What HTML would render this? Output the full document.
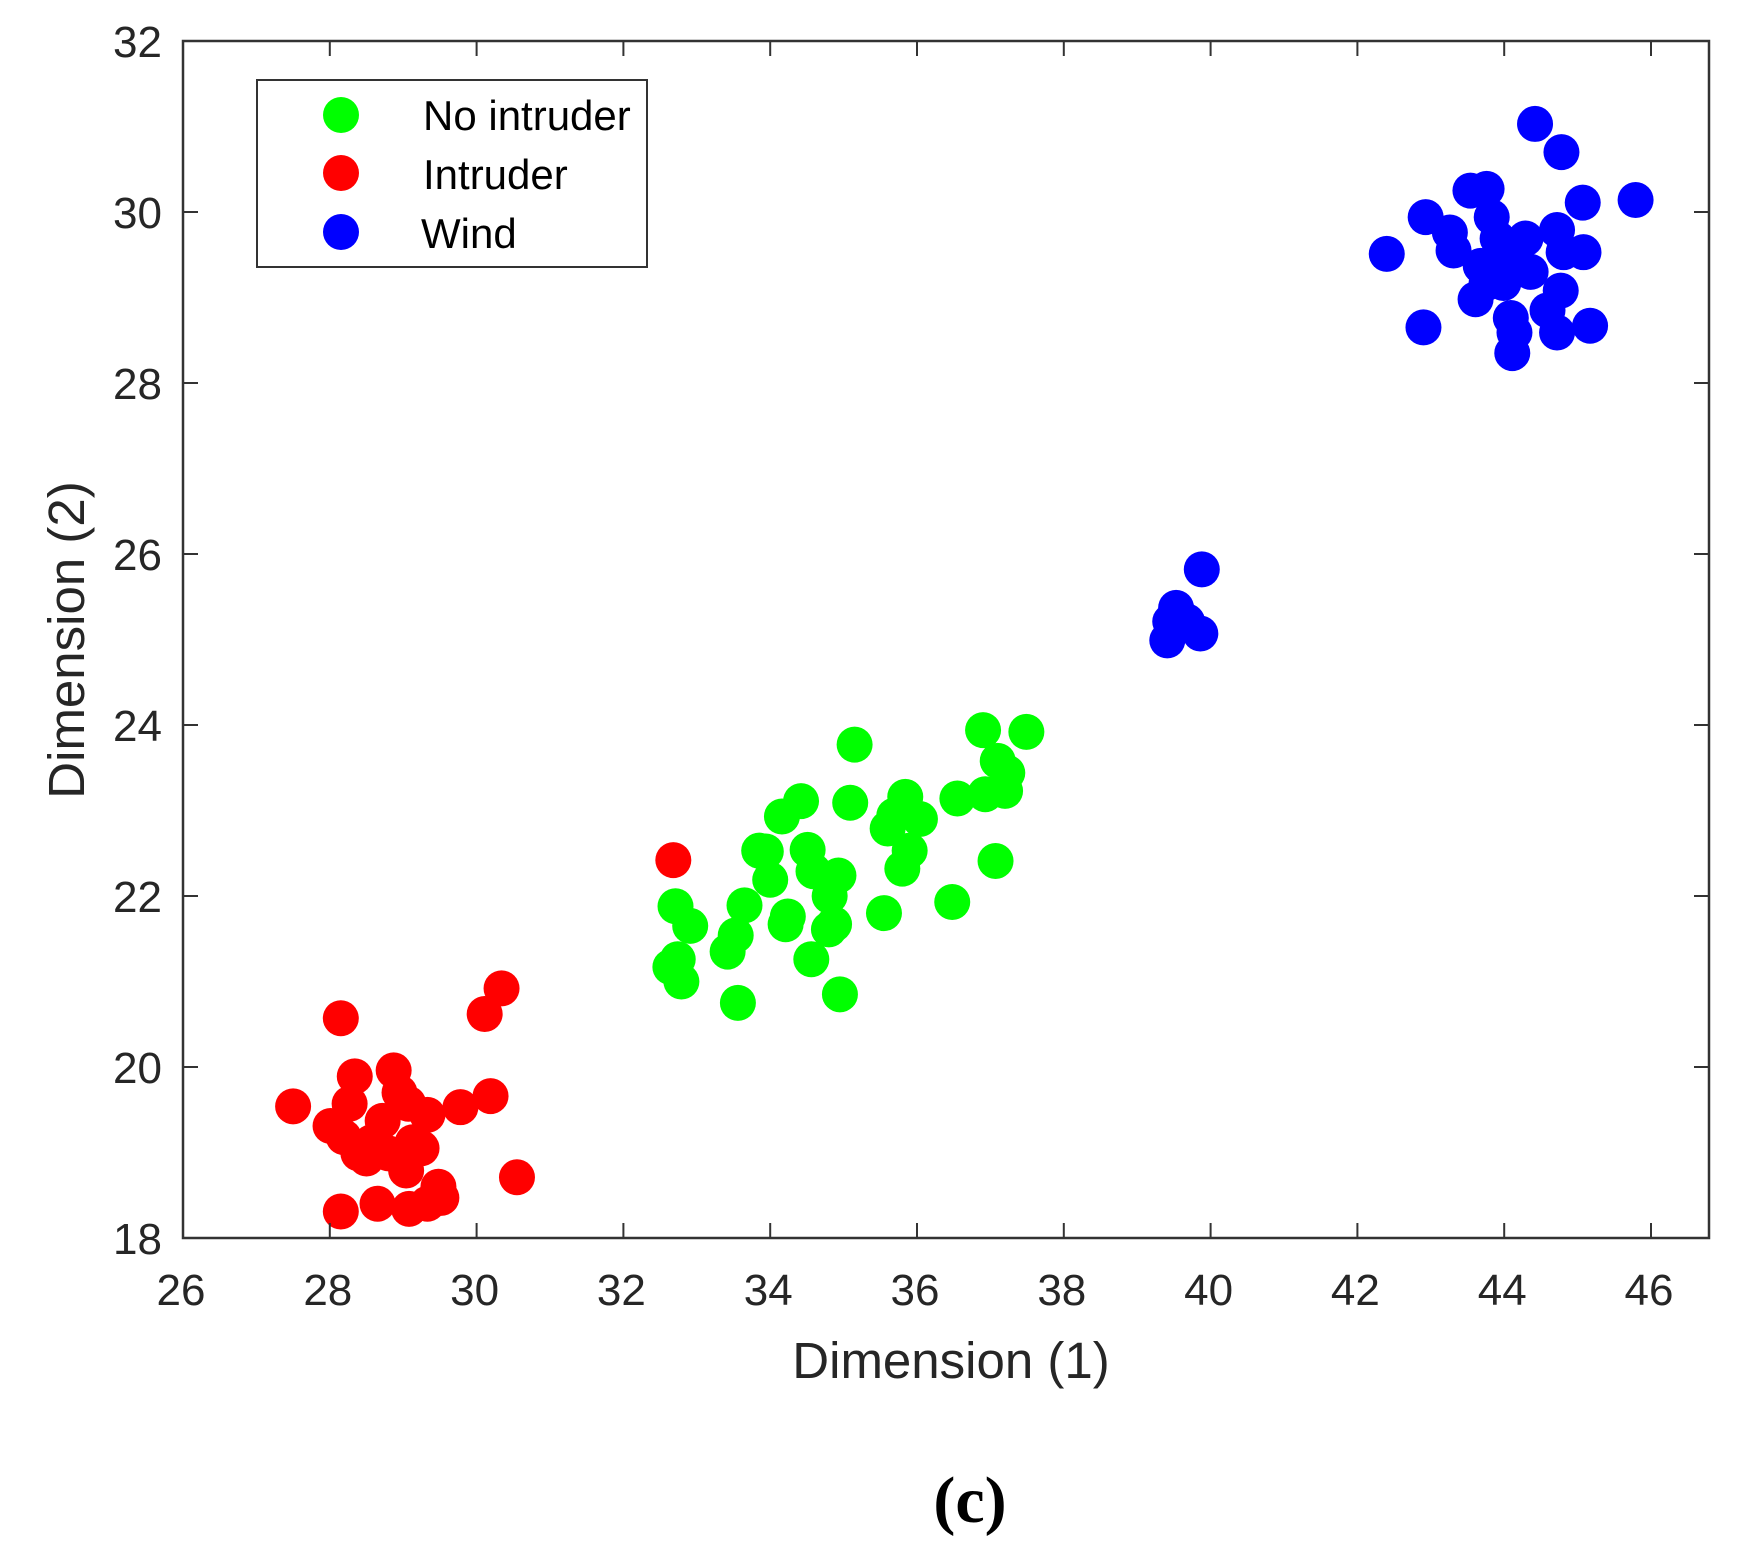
<!DOCTYPE html>
<html><head><meta charset="utf-8">
<style>
html,body{margin:0;padding:0;background:#fff;}
svg{display:block;font-family:"Liberation Sans",Arial,sans-serif;}
</style></head>
<body>
<svg id="chart" width="1739" height="1559" viewBox="0 0 1739 1559" xmlns="http://www.w3.org/2000/svg">
<rect x="0" y="0" width="1739" height="1559" fill="#fff"/>
<g id="points"></g>
<g id="axes"></g>
<g id="legend">
  <rect x="257" y="80" width="390" height="187" fill="#fff" stroke="#333" stroke-width="2"/>
  <circle cx="341" cy="115" r="18" fill="#00ff00"/>
  <circle cx="341" cy="173" r="18" fill="#ff0000"/>
  <circle cx="341" cy="232" r="18" fill="#0000ff"/>
  <text x="423" y="130" font-size="42" fill="#000">No intruder</text>
  <text x="423" y="189" font-size="42" fill="#000">Intruder</text>
  <text x="421" y="248" font-size="42" fill="#000">Wind</text>
</g>
<text x="951" y="1378" font-size="51" text-anchor="middle" fill="#262626">Dimension (1)</text>
<text transform="translate(84,640) rotate(-90)" font-size="51" text-anchor="middle" fill="#262626">Dimension (2)</text>
<text x="970" y="1522" font-size="66" text-anchor="middle" font-family="'Liberation Serif',serif" font-weight="bold" fill="#000">(c)</text>
</svg>
<script>
const xTicks = [26,28,30,32,34,36,38,40,42,44,46];
const yTicks = [18,20,22,24,26,28,30,32];
const greenX = [32.71,32.91,32.64,32.74,32.79,33.56,33.42,33.53,33.65,33.85,33.94,34.0,34.16,34.42,34.24,34.21,34.51,34.59,34.56,34.81,34.87,34.80,34.93,34.95,35.09,35.15,35.55,35.6,35.69,35.84,35.90,35.80,36.04,36.48,36.55,36.90,36.93,37.07,37.10,37.20,37.23,37.49];
const greenY = [21.88,21.65,21.17,21.26,21.0,20.75,21.35,21.54,21.89,22.53,22.52,22.19,22.93,23.11,21.76,21.67,22.54,22.29,21.26,22.0,21.67,21.61,22.24,20.85,23.09,23.77,21.80,22.79,22.94,23.16,22.53,22.32,22.90,21.93,23.14,23.94,23.19,22.41,23.58,23.23,23.44,23.92];
const redX = [27.50,28.15,28.15,28.01,28.34,28.27,28.19,28.39,28.57,28.65,28.72,28.87,28.95,29.07,29.13,29.25,29.04,29.08,29.33,29.48,29.52,29.33,29.78,30.11,30.19,30.34,30.55,28.5,28.8,32.68];
const redY = [19.54,20.57,18.31,19.31,19.89,19.57,19.18,18.99,19.12,18.40,19.37,19.96,19.70,19.57,19.12,19.05,18.79,18.34,19.44,18.60,18.47,18.40,19.53,20.62,19.66,20.92,18.71,18.93,18.99,22.42];
const blueX = [39.41,39.45,39.53,39.68,39.86,39.88,42.40,42.90,42.93,43.26,43.31,43.54,43.76,43.61,43.83,43.68,43.91,43.99,44.06,44.09,44.14,44.11,44.29,44.36,44.42,44.59,44.72,44.72,44.78,44.77,44.81,45.07,45.08,45.17,45.79,43.76];
const blueY = [24.99,25.21,25.37,25.21,25.07,25.82,29.51,28.65,29.94,29.76,29.55,30.25,30.27,28.98,29.94,29.37,29.69,29.17,29.50,28.76,28.59,28.35,29.69,29.30,31.03,28.85,29.79,28.59,30.70,29.08,29.53,30.11,29.53,28.67,30.14,29.17];

const NS = "http://www.w3.org/2000/svg";
const L = 183, R = 1709, T = 41, B = 1238;
const xMin = 26, xMax = 46, yMin = 18, yMax = 32;
const xPx = v => 183 + (v - xMin) * (1651 - 183) / (xMax - xMin);
const yPx = v => B - (v - yMin) * (B - T) / (yMax - yMin);

function mk(tag, attrs, parent) {
  const e = document.createElementNS(NS, tag);
  for (const k in attrs) e.setAttribute(k, attrs[k]);
  parent.appendChild(e);
  return e;
}
const pts = document.getElementById('points');
function series(xs, ys, color, name) {
  const g = mk('g', {}, pts);
  
  
  for (let i = 0; i < xs.length; i++) {
    const c = mk('circle', {cx: xPx(xs[i]), cy: yPx(ys[i]), r: 18, fill: color}, g);
    
    
  }
}
series(greenX, greenY, '#00ff00', 'no-intruder');
series(redX, redY, '#ff0000', 'intruder');
series(blueX, blueY, '#0000ff', 'wind');

const ax = document.getElementById('axes');
const frame = mk('rect', {x: L, y: T, width: R - L, height: B - T, fill: 'none', stroke: '#333', 'stroke-width': 2.5}, ax);


xTicks.forEach(t => {
  const x = xPx(t);
  mk('line', {x1: x, y1: B, x2: x, y2: B - 15, stroke: '#333', 'stroke-width': 2}, ax);
  mk('line', {x1: x, y1: T, x2: x, y2: T + 15, stroke: '#333', 'stroke-width': 2}, ax);
  const tx = mk('text', {x: x - 2, y: 1305, 'font-size': 44, 'text-anchor': 'middle', fill: '#262626'}, ax);
  
  
  tx.textContent = t;
});
yTicks.forEach(t => {
  const y = yPx(t);
  mk('line', {x1: L, y1: y, x2: L + 15, y2: y, stroke: '#333', 'stroke-width': 2}, ax);
  mk('line', {x1: R, y1: y, x2: R - 15, y2: y, stroke: '#333', 'stroke-width': 2}, ax);
  const tx = mk('text', {x: 162, y: y + 16, 'font-size': 44, 'text-anchor': 'end', fill: '#262626'}, ax);
  
  
  tx.textContent = t;
});
</script>
</body></html>
